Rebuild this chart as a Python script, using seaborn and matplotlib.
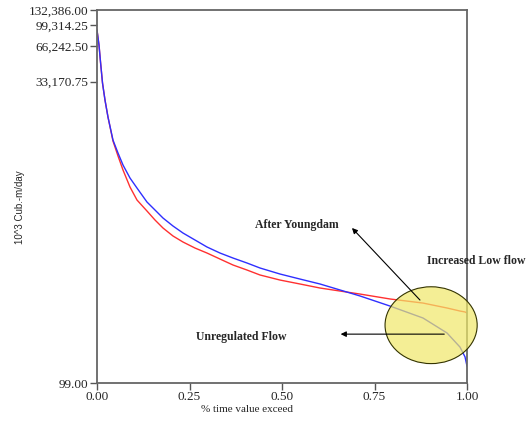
import numpy as np
import pandas as pd
import matplotlib
matplotlib.use("Agg")
import matplotlib.pyplot as plt
import seaborn as sns
from matplotlib.patches import Ellipse

# ──────────────────────────────────────────
# DATA
# ──────────────────────────────────────────
time_frac = [0.000, 0.0054, 0.0095, 0.0149, 0.0216, 0.0297, 0.0432, 0.0568,
             0.0703, 0.0892, 0.1081, 0.1351, 0.1568, 0.1784, 0.2054, 0.2324,
             0.2649, 0.2973, 0.3324, 0.3676, 0.4054, 0.4405, 0.4946, 0.5486,
             0.6027, 0.6568, 0.7108, 0.7919, 0.8811, 0.9459, 0.9811, 0.9946,
             1.000]
unregulated = [89920, 67310, 48500, 32330, 23290, 16770, 10760, 8375,
               6645, 5170, 4262, 3253, 2788, 2389, 2048, 1789,
               1563, 1366, 1216, 1104, 1003, 911, 811, 736,
               669, 596, 531, 437, 347, 260, 198, 164,
               137]
after_dam = [89920, 67310, 48500, 32330, 23290, 16770, 10560, 7905,
             6035, 4346, 3382, 2735, 2299, 1970, 1689, 1504,
             1339, 1216, 1083, 965, 876, 796, 722, 669,
             619, 584, 551, 501, 463, 421, 397, 390,
             382]

y_ticks = [99.00, 33170.75, 66242.50, 99314.25, 132386.00]
x_ticks = [0.00, 0.25, 0.50, 0.75, 1.00]

df = pd.DataFrame({"t": time_frac, "Unregulated": unregulated, "After": after_dam})

# ──────────────────────────────────────────
# PLOT
# ──────────────────────────────────────────
sns.set_style("white")
plt.rcParams["font.family"] = ["Liberation Serif", "DejaVu Serif"]

fig = plt.figure(figsize=(5.31, 4.22), dpi=100)
ax = fig.add_axes([97 / 531, 1 - 383 / 422, 370 / 531, 373 / 422])

sns.lineplot(data=df, x="t", y="After", ax=ax, color="#ff3030", lw=1.0)
sns.lineplot(data=df, x="t", y="Unregulated", ax=ax, color="#2f2fff", lw=1.0)

ax.set_yscale("log")
ax.set_ylim(y_ticks[0], y_ticks[-1])
ax.set_xlim(0, 1)
ax.set_yticks(y_ticks)
ax.set_yticklabels([f"{v:,.2f}" for v in y_ticks])
ax.minorticks_off()
ax.set_xticks(x_ticks)
ax.set_xticklabels([f"{v:.2f}" for v in x_ticks])
ax.tick_params(axis="both", labelsize=9.5, length=5, width=1, color="#555555",
               direction="out", left=True, bottom=True, pad=1)
for s in ax.spines.values():
    s.set_color("#666666")
    s.set_linewidth(1.3)

ax.set_xlabel("")
ax.set_ylabel("")
fig.text(247 / 531, 1 - 410 / 422, "% time value exceed", ha="center", va="center",
         fontsize=8)
fig.text(20 / 531, 1 - 207 / 422, "10^3 Cub.-m/day", ha="center", va="center",
         rotation=90, fontsize=7, family="Liberation Sans")

# highlight circle
ax.add_patch(Ellipse((0.903, 0.155), 0.249, 0.206, transform=ax.transAxes,
                     facecolor="#f0e868", alpha=0.7, edgecolor="none", zorder=5,
                     clip_on=False))
ax.add_patch(Ellipse((0.903, 0.155), 0.249, 0.206, transform=ax.transAxes,
                     facecolor="none", edgecolor="#333300", lw=0.8, zorder=6,
                     clip_on=False))

# annotations
arrow = dict(arrowstyle="-|>", color="black", lw=0.8, mutation_scale=8)
ax.annotate("", xy=(0.684, 0.421), xytext=(0.878, 0.217),
            xycoords="axes fraction", arrowprops=arrow, zorder=7)
ax.annotate("", xy=(0.651, 0.131), xytext=(0.946, 0.131),
            xycoords="axes fraction", arrowprops=arrow, zorder=7)
ax.text(0.541, 0.424, "After Youngdam", transform=ax.transAxes, ha="center",
        va="center", fontsize=8.5, fontweight="bold")
ax.text(1.024, 0.327, "Increased Low flow", transform=ax.transAxes, ha="center",
        va="center", fontsize=8.5, fontweight="bold", clip_on=False)
ax.text(0.389, 0.123, "Unregulated Flow", transform=ax.transAxes, ha="center",
        va="center", fontsize=8.5, fontweight="bold")

fig.savefig("out.png", dpi=100)
